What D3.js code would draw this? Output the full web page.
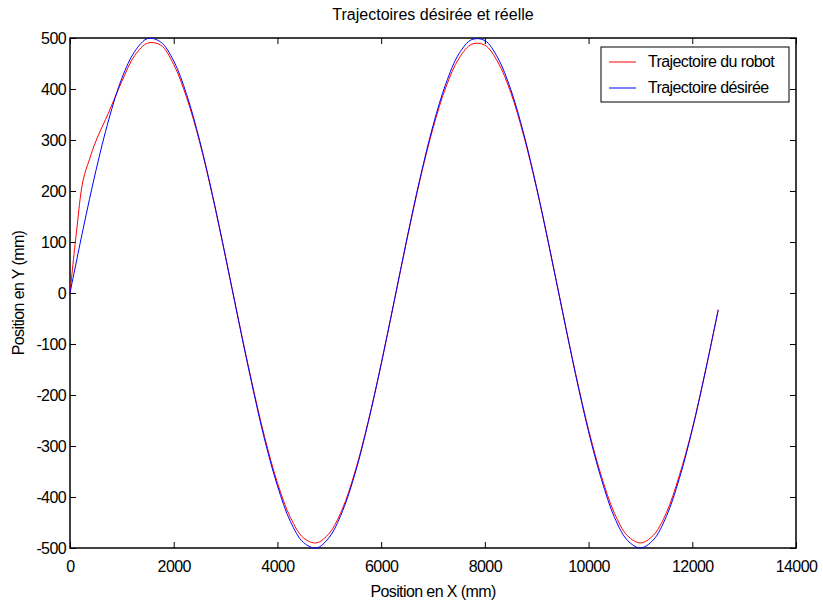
<!DOCTYPE html>
<html>
<head>
<meta charset="utf-8">
<script src="https://cdn.jsdelivr.net/npm/d3@7"></script>
<style>
  body { margin: 0; background: #fff; }
  svg text { font-family: "Liberation Sans", Arial, sans-serif; fill: #000; }
  .tick-label { font-size: 16px; letter-spacing: -0.6px; }
  .axis-label { font-size: 16px; letter-spacing: -0.6px; }
  .chart-title { font-size: 16px; letter-spacing: 0px; }
  .legend-text { font-size: 16px; letter-spacing: -0.6px; }
</style>
</head>
<body>
<div id="chart"></div>
<script>
const M = { top: 38, right: 27, bottom: 58, left: 70 };
const W = 823, H = 606;

const xTicks = [0, 2000, 4000, 6000, 8000, 10000, 12000, 14000];
const yTicks = [-500, -400, -300, -200, -100, 0, 100, 200, 300, 400, 500];

// trajectoire désirée (mm)
const desX = [0, 250, 500, 750, 1000, 1250, 1500, 1750, 2000, 2250, 2500, 2750, 3000,
  3250, 3500, 3750, 4000, 4250, 4500, 4750, 5000, 5250, 5500, 5750, 6000, 6250, 6500,
  6750, 7000, 7250, 7500, 7750, 8000, 8250, 8500, 8750, 9000, 9250, 9500, 9750, 10000,
  10250, 10500, 10750, 11000, 11250, 11500, 11750, 12000, 12250, 12500];
const desY = [0, 124, 240, 341, 421, 474, 499, 492, 455, 389, 299, 191, 71,
  -54, -175, -286, -378, -448, -489, -500, -479, -429, -353, -254, -140, -17, 108,
  225, 328, 411, 469, 497, 495, 461, 399, 312, 206, 87, -38, -160, -272,
  -366, -440, -485, -500, -484, -438, -364, -268, -155, -33];

// trajectoire du robot (mm)
const robX = [0, 125, 250, 375, 500, 750, 1000, 1250, 1500, 1750, 2000, 2250, 2500, 2750, 3000,
  3250, 3500, 3750, 4000, 4250, 4500, 4750, 5000, 5250, 5500, 5750, 6000, 6250, 6500,
  6750, 7000, 7250, 7500, 7750, 8000, 8250, 8500, 8750, 9000, 9250, 9500, 9750, 10000,
  10250, 10500, 10750, 11000, 11250, 11500, 11750, 12000, 12250, 12500];
const robY = [0, 120, 220, 262, 298, 355, 415, 466, 490, 486, 448, 383, 296, 189, 70,
  -53, -172, -281, -372, -440, -480, -490, -471, -424, -349, -252, -139, -17, 106,
  222, 323, 404, 460, 488, 486, 453, 393, 308, 204, 86, -37, -158, -268,
  -360, -432, -476, -490, -475, -431, -358, -266, -154, -33];

const iw = W - M.left - M.right;
const ih = H - M.top - M.bottom;

const svg = d3.select("#chart").append("svg")
  .attr("width", W)
  .attr("height", H);

const g = svg.append("g")
  .attr("transform", `translate(${M.left},${M.top})`);

const x = d3.scaleLinear().domain([0, 14000]).range([0, iw]);
const y = d3.scaleLinear().domain([-500, 500]).range([ih, 0]);

const fmt = d => String(d);

// ticks inward, on all four sides
const tickLen = 6;
g.append("g")
  .attr("transform", `translate(0,${ih})`)
  .call(d3.axisBottom(x).tickValues(xTicks).tickFormat(fmt).tickSizeInner(-tickLen).tickSizeOuter(0).tickPadding(10))
  .call(a => a.selectAll("text").attr("class", "tick-label").attr("dy", "0.85em"));
g.append("g")
  .call(d3.axisTop(x).tickValues(xTicks).tickSizeInner(-tickLen).tickSizeOuter(0).tickFormat(""));
g.append("g")
  .call(d3.axisLeft(y).tickValues(yTicks).tickFormat(fmt).tickSizeInner(-tickLen).tickSizeOuter(0).tickPadding(4))
  .call(a => a.selectAll("text").attr("class", "tick-label"));
g.append("g")
  .attr("transform", `translate(${iw},0)`)
  .call(d3.axisRight(y).tickValues(yTicks).tickSizeInner(-tickLen).tickSizeOuter(0).tickFormat(""));

g.selectAll(".domain").remove();
g.selectAll(".tick line").attr("stroke", "#000");
g.selectAll(".tick text").attr("font-size", null).attr("font-family", null);

g.append("rect")
  .attr("width", iw)
  .attr("height", ih)
  .attr("fill", "none")
  .attr("stroke", "#000")
  .attr("stroke-width", 1.5);

const line = d3.line()
  .x(d => x(d[0]))
  .y(d => y(d[1]))
  .curve(d3.curveCatmullRom);

g.append("path")
  .datum(robX.map((v, i) => [v, robY[i]]))
  .attr("d", line)
  .attr("fill", "none")
  .attr("stroke", "#ff0000")
  .attr("stroke-width", 1);

g.append("path")
  .datum(desX.map((v, i) => [v, desY[i]]))
  .attr("d", line)
  .attr("fill", "none")
  .attr("stroke", "#0000ff")
  .attr("stroke-width", 1);

// title and axis labels
svg.append("text")
  .attr("class", "chart-title")
  .attr("x", M.left + iw / 2)
  .attr("y", 20)
  .attr("text-anchor", "middle")
  .text("Trajectoires désirée et réelle");

svg.append("text")
  .attr("class", "axis-label")
  .attr("x", M.left + iw / 2)
  .attr("y", 597)
  .attr("text-anchor", "middle")
  .text("Position en X (mm)");

svg.append("text")
  .attr("class", "axis-label")
  .attr("transform", "rotate(-90)")
  .attr("x", -(M.top + ih / 2))
  .attr("y", 24)
  .attr("text-anchor", "middle")
  .text("Position en Y  (mm)");

// legend
const legend = svg.append("g").attr("transform", "translate(601,47)");
legend.append("rect")
  .attr("width", 188)
  .attr("height", 55)
  .attr("fill", "#fff")
  .attr("stroke", "#000");
const items = [["Trajectoire du robot", "#ff0000"], ["Trajectoire désirée", "#0000ff"]];
items.forEach(([label, col], i) => {
  const ly = 15 + i * 26;
  legend.append("line")
    .attr("x1", 8).attr("x2", 35)
    .attr("y1", ly).attr("y2", ly)
    .attr("stroke", col);
  legend.append("text")
    .attr("class", "legend-text")
    .attr("x", 47)
    .attr("y", ly + 5)
    .text(label);
});
</script>
</body>
</html>
